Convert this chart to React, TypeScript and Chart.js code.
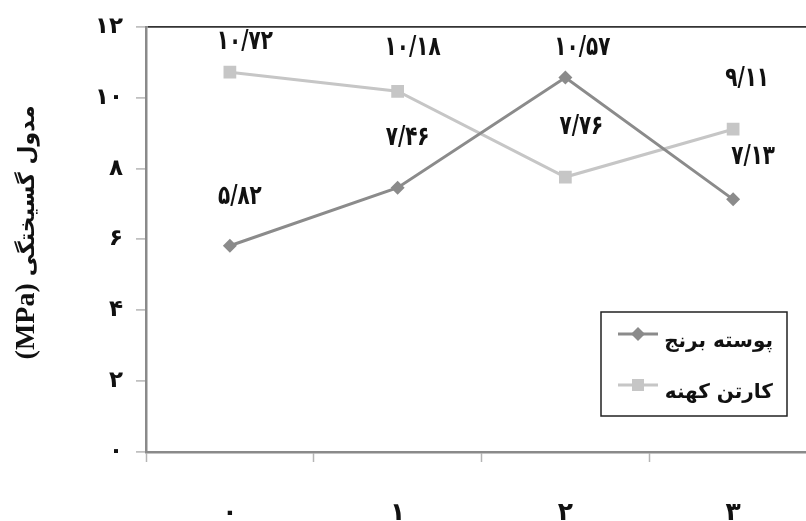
import React, { useEffect, useRef } from 'react';
import { Chart, registerables } from 'chart.js';

Chart.register(...registerables);

// ---- data ----
const categories = ['0', '1', '2', '3'];
const riceHusk = [5.82, 7.46, 10.57, 7.13];
const oldCarton = [10.72, 10.18, 7.76, 9.11];
const seriesNames = ['پوسته برنج', 'کارتن کهنه'];
const yMin = 0;
const yMax = 12;
const yStep = 2;
const yTitleText = 'مدول گسیختگی';
const yTitleUnit = '(MPa)';

// ---- layout / style (not data) ----
const labelOffsets: number[][][] = [
  [[10, -49], [10, -50], [17, -29], [20, -42]],
  [[15, -30], [15, -43], [16, -50], [14, -50]],
];
const colors = ['#8b8b8b', '#c6c6c6'];
const pointStyles = ['rectRot', 'rect'];
const pointRadii = [7, 9];
const AR_FONT = "'DejaVu Sans'";

const faDigits = '۰۱۲۳۴۵۶۷۸۹';
function toFa(v: number | string, decimals?: number): string {
  const s = typeof v === 'number' && decimals !== undefined ? v.toFixed(decimals) : String(v);
  return s.replace(/[0-9]/g, (d) => faDigits[Number(d)]).replace('.', '/');
}

const decorPlugin = {
  id: 'decor',
  afterDatasetsDraw(chart: any) {
    const ctx = chart.ctx;
    chart.data.datasets.forEach((ds: any, di: number) => {
      const meta = chart.getDatasetMeta(di);
      meta.data.forEach((pt: any, i: number) => {
        const [dx, dy] = labelOffsets[di][i];
        ctx.save();
        ctx.translate(pt.x + dx, pt.y + dy);
        ctx.scale(0.74, 1);
        ctx.font = `bold 27px ${AR_FONT}`;
        ctx.fillStyle = '#111';
        ctx.textAlign = 'center';
        ctx.textBaseline = 'middle';
        ctx.fillText(toFa(ds.data[i], 2), 0, 0);
        ctx.restore();
      });
    });
  },
  afterDraw(chart: any) {
    const ctx = chart.ctx;
    const area = chart.chartArea;
    // y-axis title
    ctx.save();
    const cy = (area.top + area.bottom) / 2;
    ctx.translate(34, cy);
    ctx.rotate(-Math.PI / 2);
    ctx.fillStyle = '#111';
    ctx.textBaseline = 'alphabetic';
    ctx.font = "bold 28px 'Liberation Serif'";
    ctx.textAlign = 'left';
    ctx.direction = 'ltr';
    ctx.fillText(yTitleUnit, -120, 0);
    ctx.font = `bold 22px ${AR_FONT}`;
    ctx.direction = 'rtl';
    ctx.textAlign = 'right';
    ctx.fillText(yTitleText, 134, 0);
    ctx.restore();

    // legend box
    ctx.save();
    const bx = 601, by = 312, bw = 186, bh = 104;
    ctx.fillStyle = '#fff';
    ctx.fillRect(bx, by, bw, bh);
    ctx.strokeStyle = '#222';
    ctx.lineWidth = 1.5;
    ctx.strokeRect(bx, by, bw, bh);
    const rows = [334, 385];
    chart.data.datasets.forEach((ds: any, di: number) => {
      const y = rows[di];
      ctx.strokeStyle = ds.borderColor;
      ctx.lineWidth = 3;
      ctx.beginPath();
      ctx.moveTo(618, y);
      ctx.lineTo(658, y);
      ctx.stroke();
      ctx.fillStyle = ds.pointBackgroundColor;
      if (ds.pointStyle === 'rect') {
        ctx.fillRect(638 - 6, y - 6, 12, 12);
      } else {
        ctx.beginPath();
        ctx.moveTo(638, y - 7);
        ctx.lineTo(645, y);
        ctx.lineTo(638, y + 7);
        ctx.lineTo(631, y);
        ctx.closePath();
        ctx.fill();
      }
      ctx.fillStyle = '#111';
      ctx.font = `bold 20px ${AR_FONT}`;
      ctx.direction = 'rtl';
      ctx.textAlign = 'right';
      ctx.textBaseline = 'alphabetic';
      ctx.fillText(ds.label, 773, y + 13);
    });
    ctx.restore();
  },
};

export default function App() {
  const ref = useRef<HTMLCanvasElement | null>(null);
  useEffect(() => {
    if (!ref.current) return;
    const chart = new Chart(ref.current, {
      type: 'line',
      data: {
        labels: categories.map((c) => toFa(c)),
        datasets: [riceHusk, oldCarton].map((values, di) => ({
          label: seriesNames[di],
          data: values,
          borderColor: colors[di],
          backgroundColor: colors[di],
          pointBackgroundColor: colors[di],
          pointBorderColor: colors[di],
          pointBorderWidth: 0,
          borderWidth: 3,
          pointStyle: pointStyles[di] as any,
          pointRadius: pointRadii[di],
          tension: 0,
          fill: false,
        })),
      },
      options: {
        responsive: false,
        animation: false,
        devicePixelRatio: 1,
        layout: { padding: { left: 0, top: 25, right: 13, bottom: 0 } },
        plugins: {
          legend: { display: false },
          tooltip: { enabled: false },
          title: { display: false },
        },
        scales: {
          x: {
            type: 'category',
            offset: true,
            grid: {
              display: true,
              drawOnChartArea: false,
              offset: true,
              tickColor: '#b5b5b5',
              tickLength: 10,
              tickWidth: 1.5,
            },
            border: { display: true, color: '#8a8a8a', width: 2.5 },
            ticks: {
              color: '#111',
              padding: 36,
              font: { family: AR_FONT, size: 25, weight: 'bold' },
              maxRotation: 0,
            },
            afterFit: (s: any) => {
              s.height = 69;
            },
          },
          y: {
            min: yMin,
            max: yMax,
            grid: {
              display: true,
              drawOnChartArea: true,
              color: (c: any) => (c.tick && c.tick.value === yMax ? '#333' : 'rgba(0,0,0,0)'),
              lineWidth: 1.8,
              tickColor: '#b5b5b5',
              tickLength: 10,
              tickWidth: 1.5,
            },
            border: { display: true, color: '#8a8a8a', width: 2.5 },
            ticks: {
              stepSize: yStep,
              color: '#111',
              padding: 13,
              font: { family: AR_FONT, size: 23, weight: 'bold' },
              callback: (v: any) => toFa(v),
            },
            afterFit: (s: any) => {
              s.width = 146;
            },
          },
        },
      },
      plugins: [decorPlugin],
    });
    return () => chart.destroy();
  }, []);
  return (
    <div
      style={{
        position: 'fixed',
        left: 0,
        top: 0,
        width: 806,
        height: 521,
        overflow: 'hidden',
        background: '#fff',
      }}
    >
      <canvas ref={ref} width={830} height={521} style={{ display: 'block' }} />
    </div>
  );
}
